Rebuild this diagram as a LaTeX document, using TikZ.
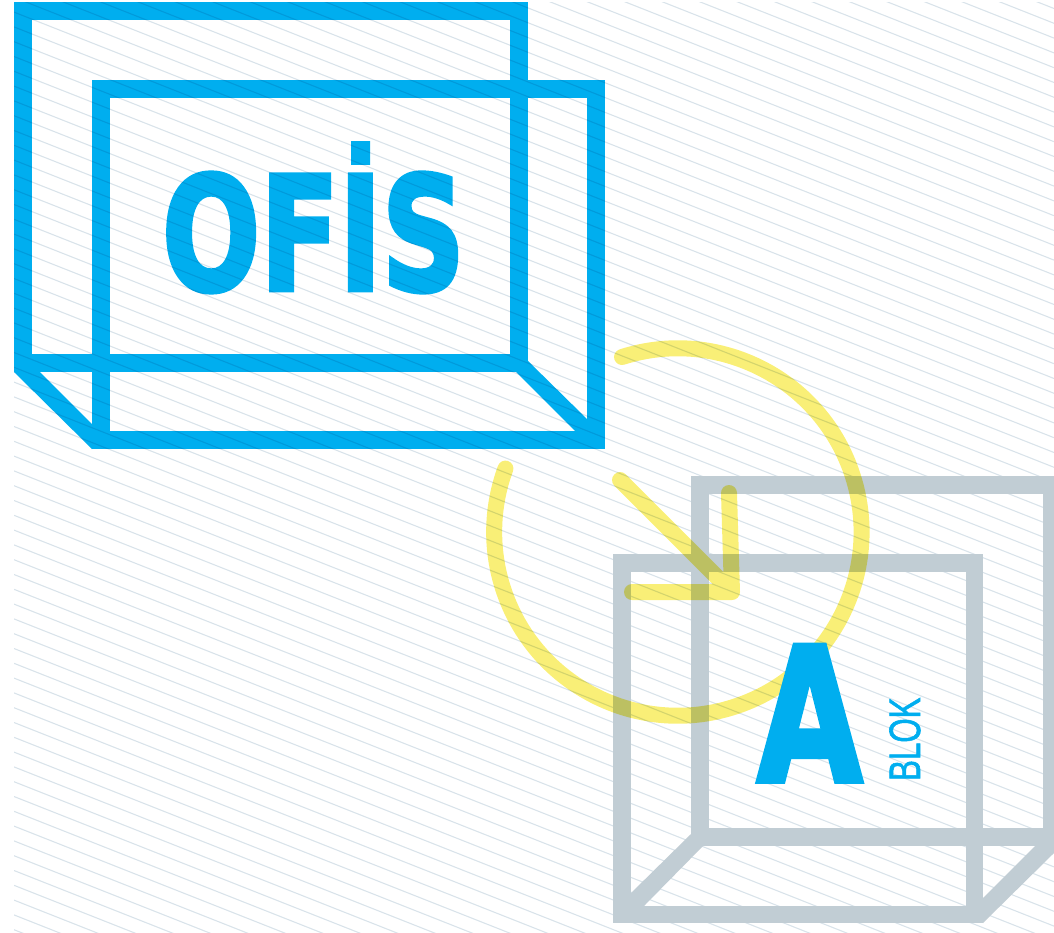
\documentclass[tikz,border=0pt]{standalone}
\usepackage{fontspec}
\setmainfont{DejaVu Sans}
\newfontfamily\heavyfont{DejaVu Sans}[BoldFeatures={FakeBold=3}]
\newfontfamily\blokfont{Liberation Sans}[FakeBold=1.5]
\usepackage{xcolor}
\definecolor{ofisblue}{HTML}{00AEEF}
\definecolor{blokgray}{HTML}{C1CDD4}
\definecolor{arcyellow}{HTML}{F9EF77}
\definecolor{hatchgray}{HTML}{D9E3EA}

\begin{document}
\begin{tikzpicture}[
  x=1pt,y=-1pt,
  hatchline/.style={line width=1.1pt,hatchgray},
  ofisframe/.style={draw=ofisblue,line width=17.5pt,miter limit=10},
  ofisfill/.style={fill=ofisblue},
  blokframe/.style={draw=blokgray,line width=17.5pt},
  blokfill/.style={fill=blokgray},
  turnline/.style={draw=arcyellow,line width=16pt,line cap=round,line join=round},
  bigtext/.style={text=ofisblue,inner sep=0pt,transform shape,anchor=base west}
]
\useasboundingbox (0,0) rectangle (1054,932);

% Office block
\fill[ofisfill] (14,372) -- (92,449) -- (92,424) -- (40,372) -- cycle;
\fill[ofisfill] (527,360) -- (587,419) -- (596,440) -- (575,431) -- (516,372) -- cycle;
\draw[ofisframe] (22.75,10.75) rectangle (518.75,363);
\draw[ofisframe] (100.75,89) rectangle (596,440);
\node[bigtext,xscale=.73,font=\fontsize{158}{158}\heavyfont\bfseries] (ofis) at (162,290) {OFİS};

% Hatching
\begin{scope}[blend mode=multiply]
  \clip (14,2) rectangle (1054,932);
  \foreach \k in {-81,...,11}
    \draw[hatchline] (14,{781.7+\k*14.8}) -- (1054,{781.7+\k*14.8+410.8});
\end{scope}

% A block
\begin{scope}
  \clip (0,0) rectangle (1054,932);
  \fill[blokfill] (692,833) -- (631,893) -- (631,906) -- (644,906) -- (703,846) -- (692,846) -- cycle;
  \fill[blokfill] (1035,846) -- (983,898) -- (983,923) -- (1054,853) -- (1054,846) -- cycle;
  \draw[blokframe] (700,485) rectangle (1052,837);
  \draw[blokframe] (622,563) rectangle (974.5,914.5);
\end{scope}

% Turn arrow
\begin{scope}[blend mode=multiply]
  \draw[turnline] (622,357) arc[start angle=-107.7,end angle=200.2,radius=183.7];
  \draw[turnline] (729,493) -- (732,592) -- (632,592) (620,480) -- (732,592);
\end{scope}

% Labels
\node[bigtext,xscale=.73,font=\fontsize{186}{186}\heavyfont\bfseries] (blokA) at (757,781) {A};
\node[bigtext,rotate=90,xscale=.71,font=\fontsize{44}{44}\blokfont] (blok) at (920,781) {BLOK};
\end{tikzpicture}
\end{document}
